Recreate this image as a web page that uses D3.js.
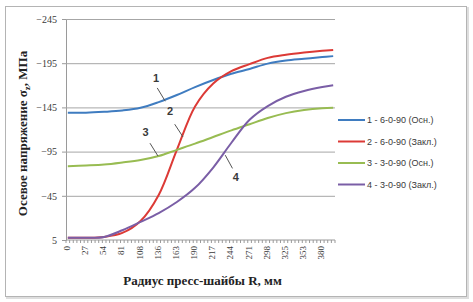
<!DOCTYPE html>
<html lang="ru">
<head>
<meta charset="UTF-8">
<script src="https://cdn.jsdelivr.net/npm/d3@7"></script>
<title>Осевое напряжение</title>
<style>
  body { margin: 0; background: #fff; }
  text { fill: #3a3a3a; }
  .tick-y { font-family: "Liberation Serif", serif; font-size: 10px; }
  .tick-x { font-family: "Liberation Serif", serif; font-size: 9px; }
  .title { font-family: "Liberation Serif", serif; font-size: 13px; font-weight: bold; fill: #222; }
  .legend { font-family: "Liberation Sans", sans-serif; font-size: 9px; }
  .ann { font-family: "Liberation Sans", sans-serif; font-size: 11px; font-weight: bold; }
</style>
</head>
<body>
<script>
// category axis: 74 slots, labelled every 5th
const catCount = 74;
const tickLabels = ["0", "27", "54", "81", "108", "136", "163", "190", "217", "244", "271", "298", "325", "353", "380"];
const labelCats = [0, 5, 10, 15, 20, 25, 30, 35, 40, 45, 50, 55, 60, 65, 70];
const yTicks = [-245, -195, -145, -95, -45, 5];

// values read at these categories
const sampleCats = [0, 5, 10, 15, 20, 25, 30, 35, 40, 45, 50, 55, 60, 65, 70, 73];
const s1 = [-139, -139, -140, -141.5, -144.5, -151, -159, -168, -176, -183, -188.5, -194.5, -198, -200, -202, -203];
const s2 = [2.5, 2.5, 1.5, -3, -16.5, -46, -97, -146, -172, -186, -194, -201, -204.5, -207, -209, -210];
const s3 = [-78.5, -79.3, -80.4, -82.7, -85.5, -90, -97, -104, -111.5, -119, -126, -133, -138.5, -142, -144, -144.5];
const s4 = [2.5, 2.5, 1.5, -6, -15.5, -25.5, -38, -54, -77, -105, -131, -146.5, -157, -163.5, -168, -170];

const seriesNames = ["1 - 6-0-90 (Осн.)", "2 - 6-0-90 (Закл.)", "3 - 3-0-90 (Осн.)", "4 - 3-0-90 (Закл.)"];
const seriesColors = ["#3f7cc0", "#dc3a36", "#98bc52", "#7a5ea6"];
const allSeries = [s1, s2, s3, s4];

// number annotations: text spot and pointer, in category / value units
const annotations = [
  { label: "1", at: [24.3, -174], from: [24.6, -167], to: [26.8, -152] },
  { label: "2", at: [28.1, -136], from: [29.4, -126], to: [31.7, -111.5] },
  { label: "3", at: [21.4, -113], from: [22.6, -104.5], to: [24.8, -90] },
  { label: "4", at: [46.2, -62], from: [45.3, -76], to: [43.3, -91] }
];

const width = 473, height = 302;
const plot = { left: 66, right: 335, top: 19, bottom: 240 };

const svg = d3.select("body").append("svg")
  .attr("width", width).attr("height", height);

// frame with a light shadow
svg.append("rect").attr("x", 7).attr("y", 8).attr("width", 461).attr("height", 290)
  .attr("fill", "none").attr("stroke", "#dedede").attr("stroke-width", 2);
svg.append("rect").attr("x", 5.5).attr("y", 6.5).attr("width", 461).attr("height", 290)
  .attr("fill", "#fff").attr("stroke", "#b4b4b4");

const x = d3.scaleBand().domain(d3.range(catCount)).range([plot.left, plot.right]);
const cx = i => x(0) + (i + 0.5) * x.step();
const y = d3.scaleLinear().domain([5, -245]).range([plot.bottom, plot.top]);

// grid + y axis
const yAxis = d3.axisLeft(y).tickValues(yTicks).tickSize(4).tickFormat(d3.format("d"));
const gy = svg.append("g").attr("transform", `translate(${plot.left},0)`).call(yAxis);
gy.select(".domain").attr("stroke", "#9a9a9a");
gy.selectAll(".tick line").attr("stroke", "#9a9a9a");
gy.selectAll(".tick text").attr("class", "tick-y").attr("x", -9).attr("fill", "#3a3a3a");
gy.selectAll(".tick").filter(d => d !== 5).append("line")
  .attr("x1", 0).attr("x2", plot.right - plot.left).attr("stroke", "#a6a6a6");

// x axis: line, minor ticks at category edges, rotated labels
const gx = svg.append("g");
gx.append("line").attr("x1", plot.left).attr("x2", plot.right)
  .attr("y1", plot.bottom).attr("y2", plot.bottom).attr("stroke", "#9a9a9a");
gx.selectAll("line.minor").data(d3.range(catCount + 1)).join("line")
  .attr("class", "minor")
  .attr("x1", d => x(0) + d * x.step()).attr("x2", d => x(0) + d * x.step())
  .attr("y1", plot.bottom).attr("y2", plot.bottom + 3)
  .attr("stroke", "#9a9a9a");
gx.selectAll("text").data(labelCats).join("text")
  .attr("class", "tick-x")
  .attr("text-anchor", "end")
  .attr("dominant-baseline", "middle")
  .attr("transform", d => `translate(${cx(d)},${plot.bottom + 6}) rotate(-90)`)
  .text((d, i) => tickLabels[i]);

// series
const line = d3.line()
  .x((d, i) => cx(sampleCats[i]))
  .y(d => y(d))
  .curve(d3.curveCatmullRom.alpha(0.5));
svg.append("g").selectAll("path").data(allSeries).join("path")
  .attr("d", line)
  .attr("fill", "none")
  .attr("stroke", (d, i) => seriesColors[i])
  .attr("stroke-width", 2);

// annotations
const ann = svg.append("g");
ann.selectAll("line").data(annotations).join("line")
  .attr("x1", d => cx(d.from[0])).attr("y1", d => y(d.from[1]))
  .attr("x2", d => cx(d.to[0])).attr("y2", d => y(d.to[1]))
  .attr("stroke", "#555").attr("stroke-width", 1);
ann.selectAll("text").data(annotations).join("text")
  .attr("class", "ann")
  .attr("text-anchor", "middle")
  .attr("x", d => cx(d.at[0])).attr("y", d => y(d.at[1]))
  .text(d => d.label);

// axis titles
svg.append("text").attr("class", "title")
  .attr("text-anchor", "middle")
  .attr("x", (plot.left + plot.right) / 2 + 2).attr("y", 285)
  .text("Радиус пресс-шайбы R, мм");

const yt = svg.append("text").attr("class", "title")
  .attr("text-anchor", "middle")
  .attr("transform", `translate(27,${(plot.top + plot.bottom) / 2 + 4}) rotate(-90)`);
yt.append("tspan").text("Осевое напряжение σ");
yt.append("tspan").attr("font-size", "9px").attr("dy", 3).text("z");
yt.append("tspan").attr("dy", -3).text(", МПа");

// legend
const lg = svg.append("g").attr("transform", "translate(338,120)");
const item = lg.selectAll("g").data(seriesNames).join("g")
  .attr("transform", (d, i) => `translate(0,${i * 21.5})`);
item.append("line").attr("x1", 0).attr("x2", 27)
  .attr("stroke", (d, i) => seriesColors[i]).attr("stroke-width", 2);
item.append("text").attr("class", "legend")
  .attr("x", 29).attr("dy", "0.35em")
  .text(d => d);
</script>
</body>
</html>
